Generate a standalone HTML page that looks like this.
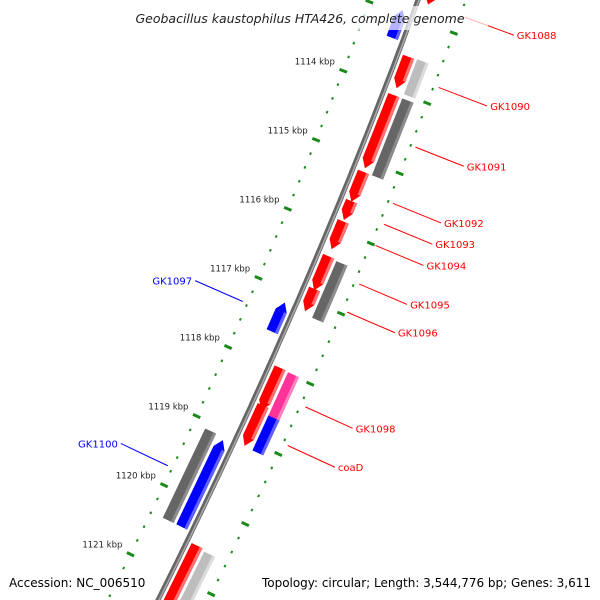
<!DOCTYPE html>
<html><head><meta charset="utf-8"><style>
html,body{margin:0;padding:0;background:#fff;width:600px;height:600px;overflow:hidden}
svg{display:block;font-family:"DejaVu Sans","Liberation Sans",sans-serif}
</style></head><body>
<svg id="map" width="600" height="600" viewBox="0 0 600 600" overflow="hidden" xmlns="http://www.w3.org/2000/svg">
<g id="ticks"></g>
<g id="backbone"></g>
<g id="genes"></g>
<g id="labels"></g>
<rect x="112" y="6" width="376" height="24" fill="#fff" fill-opacity="0.7"/>
<text x="300" y="23" text-anchor="middle" font-size="12.5" font-style="italic" fill="#222">Geobacillus kaustophilus HTA426, complete genome</text>
<rect x="4" y="570" width="146" height="22" fill="#fff" fill-opacity="0.8"/>
<text x="9" y="587" font-size="12" fill="#000">Accession: NC_006510</text>
<rect x="255" y="570" width="342" height="22" fill="#fff" fill-opacity="0.8"/>
<text x="591" y="587" text-anchor="end" font-size="12" textLength="329" fill="#000">Topology: circular; Length: 3,544,776 bp; Genes: 3,611</text>
</svg>
<script>
// genome data (kbp)
const geneStart = [1112.55,1113.51,1114.06,1115.16,1115.58,1115.87,1116.37,1116.84,1117.97,1118.51,1120.52, 1113.50,1114.06,1116.39,1116.86,1117.98,1118.60,1120.55, 1112.95,1117.16,1119.14, 1119.10];
const geneEnd   = [1112.76,1113.96,1115.11,1115.59,1115.85,1116.27,1116.86,1117.16,1118.58,1119.09,1121.50, 1114.00,1115.16,1116.89,1117.20,1118.64,1119.10,1121.37, 1113.35,1117.58,1120.39, 1120.39];
const geneLane  = [1,1,1,1,1,1,1,1,1,1,1, 2,2,2,2,2,2,2, -1,-1,-1, -2];
const geneStrand= [1,1,1,1,1,1,1,1,1,1,1, 0,0,0,0,0,0,0, -1,-1,-1, 0];
const geneColor = ["red","red","red","red","red","red","red","red","red","red","red","lightgray","darkgray","darkgray","darkgray","magenta","blue","lightgray","blue","blue","blue","darkgray"];
const labelNames = ["GK1088","GK1090","GK1091","GK1092","GK1093","GK1094","GK1095","GK1096","GK1098","coaD","GK1097","GK1100"];
const labelPos   = [1112.75,1113.75,1114.6,1115.4,1115.7,1116.0,1116.55,1116.95,1118.3,1118.85,1117.37,1119.75];
const labelSide  = [1,1,1,1,1,1,1,1,1,1,-1,-1];
const tickLabels = [1113,1114,1115,1116,1117,1118,1119,1120,1121];
const kbpMin = 1112.4, kbpMax = 1121.7, tickStep = 0.2;

const NS="http://www.w3.org/2000/svg";
function S(k){return 87+(k-1114)*69.6;}
function X(s){return 418-0.367*s-0.0001105*s*s;}
function P(k,r){const s=S(k);const d=-0.367-0.000221*s;const n=Math.sqrt(1+d*d);return [X(s)+r/n, s-r*d/n];}
function el(tag,attrs,parent){const e=document.createElementNS(NS,tag);for(const a in attrs)e.setAttribute(a,attrs[a]);parent.appendChild(e);return e;}
function pts(a){return a.map(p=>p[0].toFixed(1)+","+p[1].toFixed(1)).join(" ");}

// backbone
const bb=document.getElementById('backbone');
let bpath=[];for(let k=kbpMin-0.3;k<=kbpMax+0.3;k+=0.1)bpath.push(P(k,0));
const b1=el('polyline',{points:pts(bpath),fill:'none',stroke:'#666','stroke-width':5},bb);


const b2=el('polyline',{points:pts(bpath.map(p=>[p[0]+1,p[1]])),fill:'none',stroke:'#aaa','stroke-width':1.5},bb);



// ticks
const tg=document.getElementById('ticks');
for(let i=Math.ceil((kbpMin-0.6)/tickStep);i*tickStep<=kbpMax+0.6;i++){
  const k=Math.round(i*tickStep*10)/10;
  const major=Math.abs(k-Math.round(k))<1e-6;
  for(const side of [-1,1]){
    const a=P(k,side*45-(major?4:1)), b=P(k,side*45+(major?4:1));
    const t=el('line',{x1:a[0],y1:a[1],x2:b[0],y2:b[1],stroke:'#1a8a1a','stroke-width':major?3:2.5},tg);
    
    
  }
}
tickLabels.forEach(k=>{
  const p=P(k,-54);
  const t=el('text',{x:p[0],y:p[1]-3,'text-anchor':'end','font-size':8.5,fill:'#222'},tg);
  t.textContent=k+' kbp';
  
  
});

// genes
const colors={red:['#ff0000','#ff7070'],lightgray:['#bdbdbd','#dcdcdc'],darkgray:['#666666','#8c8c8c'],magenta:['#ff3399','#ff80bf'],blue:['#0000ff','#6060ff']};
const gg=document.getElementById('genes');
for(let i=0;i<geneStart.length;i++){
  const lane=geneLane[i];const sign=Math.sign(lane);
  const rin=sign*(Math.abs(lane)===1?5:20), rout=sign*(Math.abs(lane)===1?17:32);
  const r1=Math.min(rin,rout), r2=Math.max(rin,rout);
  const k1=geneStart[i], k2=geneEnd[i], st=geneStrand[i], rm=(r1+r2)/2;
  const h=Math.min(0.12,(k2-k1)*0.5);
  let poly;
  if(st===1) poly=[P(k1,r1),P(k2-h,r1),P(k2,rm),P(k2-h,r2),P(k1,r2)];
  else if(st===-1) poly=[P(k1+h,r1),P(k2,r1),P(k2,r2),P(k1+h,r2),P(k1,rm)];
  else poly=[P(k1,r1),P(k2,r1),P(k2,r2),P(k1,r2)];
  const c=colors[geneColor[i]];
  const g=el('polygon',{points:pts(poly),fill:c[0]},gg);
  
  
  const e1=st===1?k2-h:k2, s1=st===-1?k1+h:k1;
  const hl=el('polygon',{points:pts([P(s1,r2-3),P(e1,r2-3),P(e1,r2),P(s1,r2)]),fill:c[1]},gg);
  
  
}

// labels
const lg=document.getElementById('labels');
labelNames.forEach((nm,i)=>{
  const side=labelSide[i];const col=side>0?'#ff0000':'#0000ff';
  const a=P(labelPos[i],side*50), b=P(labelPos[i],side*102);
  const l=el('line',{x1:a[0],y1:a[1],x2:b[0],y2:b[1],stroke:col,'stroke-width':1},lg);
  
  
  const t=el('text',{x:b[0]+side*3,y:b[1]+4,'text-anchor':side>0?'start':'end','font-size':10,fill:col},lg);
  t.textContent=nm;
  
  
});
</script>
</body></html>
